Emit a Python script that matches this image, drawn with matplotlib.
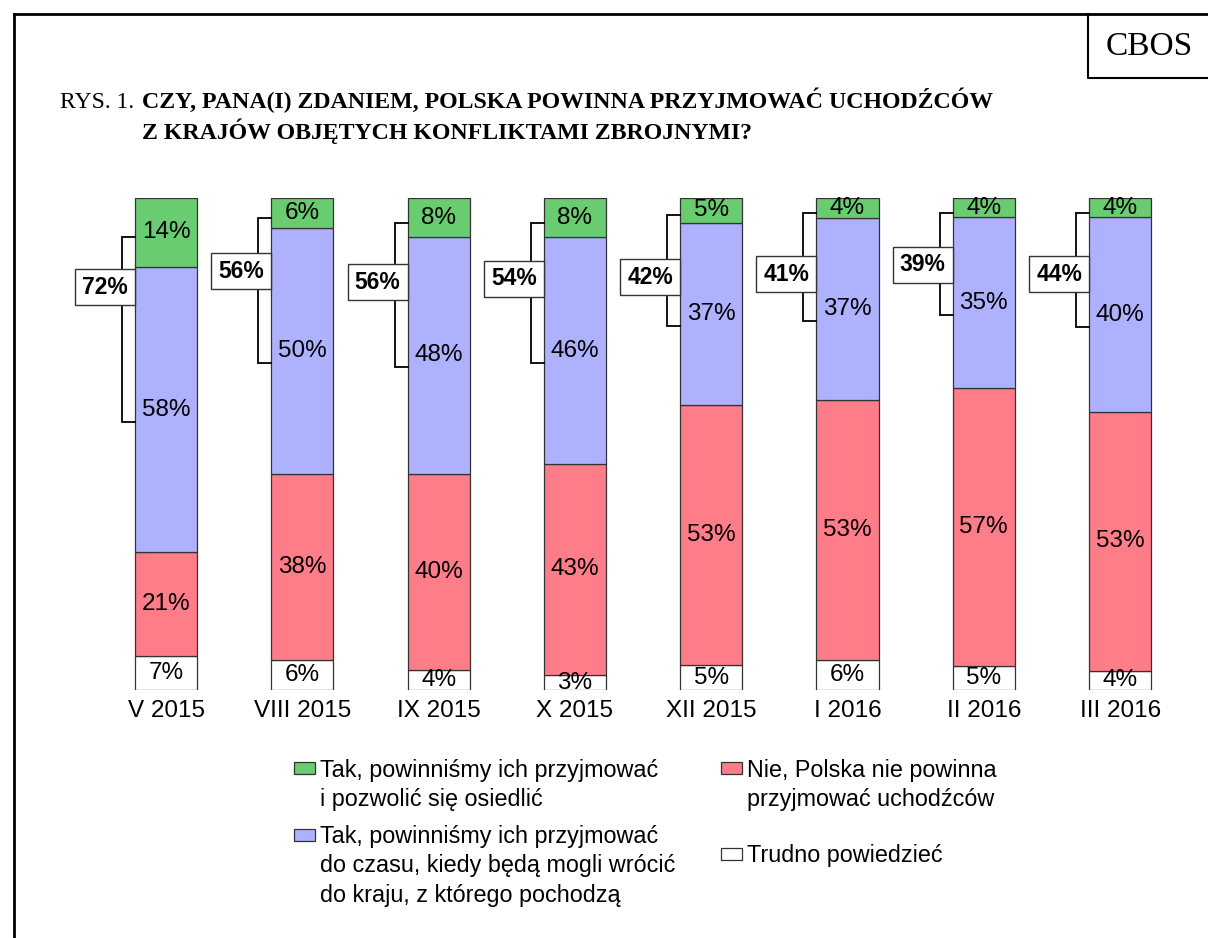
import matplotlib
matplotlib.use("Agg")
import matplotlib.pyplot as plt
from matplotlib.patches import Rectangle
import numpy as np

# dane (%)
waves = ['V 2015', 'VIII 2015', 'IX 2015', 'X 2015', 'XII 2015', 'I 2016', 'II 2016', 'III 2016']
settle = [14, 6, 8, 8, 5, 4, 4, 4]            # Tak, i pozwolić się osiedlić
temporary = [58, 50, 48, 46, 37, 37, 35, 40]  # Tak, do czasu powrotu
refuse = [21, 38, 40, 43, 53, 53, 57, 53]     # Nie
dont_know = [7, 6, 4, 3, 5, 6, 5, 4]          # Trudno powiedzieć
accept_total = [72, 56, 56, 54, 42, 41, 39, 44]

legend_labels = ['Tak, powinniśmy ich przyjmować\ni pozwolić się osiedlić',
                 'Tak, powinniśmy ich przyjmować\ndo czasu, kiedy będą mogli wrócić\ndo kraju, z którego pochodzą',
                 'Nie, Polska nie powinna\nprzyjmować uchodźców',
                 'Trudno powiedzieć']

# polozenie ramki z suma wzdluz klamry (0 = gora, 1 = dol)
box_frac = [0.27, 0.37, 0.41, 0.40, 0.56, 0.57, 0.51, 0.54]

GREEN = '#69cc70'
BLUE = '#adb1fe'
RED = '#ff7c89'
WHITE = '#ffffff'
EDGE = '#333333'
SANS = 'Liberation Sans'
SERIF = 'Liberation Serif'

W, H = 1208, 938
fig = plt.figure(figsize=(W / 100, H / 100), dpi=100)

# osie wykresu: slupek 0 w x=166 px, odstep 136.3 px, 100% = 198..690 px
step = 136.3
x0 = 166 - step
ax = fig.add_axes([x0 / W, 1 - 690 / H, (step * 8.6) / W, 492 / H])
ax.set_xlim(-1, 7.6)
ax.set_ylim(0, 100)
for s in ax.spines.values():
    s.set_visible(False)
ax.set_yticks([])

x = np.arange(len(waves))
bw = 0.455
data = np.array([dont_know, refuse, temporary, settle], dtype=float)
totals = data.sum(axis=0)
frac = data / totals * 100
colors = [WHITE, RED, BLUE, GREEN]

bottom = np.zeros(len(waves))
for k in range(4):
    ax.bar(x, frac[k], bw, bottom=bottom, color=colors[k], edgecolor=EDGE, linewidth=0.9, zorder=2)
    for i in range(len(waves)):
        ax.text(x[i], bottom[i] + frac[k][i] / 2, f'{int(data[k][i])}%', ha='center', va='center',
                fontsize=17.5, family=SANS, zorder=4)
    bottom += frac[k]

ax.set_xticks(x)
ax.set_xticklabels(waves, fontsize=17.5, family=SANS)
ax.tick_params(axis='x', length=0, pad=7)

# klamry z suma odpowiedzi "tak"
px_x = 1 / step
px_y = 100 / 492
for i in range(len(waves)):
    left = x[i] - bw / 2
    y_top = 100 - frac[3][i] / 2 - 5 * px_y
    y_bot = frac[0][i] + frac[1][i] + frac[2][i] / 2 - 12 * px_y
    xb = left - 13 * px_x
    ax.plot([left, xb, xb, left], [y_top, y_top, y_bot, y_bot], color='black', lw=1.3,
            solid_joinstyle='miter', zorder=3, clip_on=False)
    yc = y_top - box_frac[i] * (y_top - y_bot)
    bh = 36 * px_y
    bwid = 60 * px_x
    ax.add_patch(Rectangle((left - bwid, yc - bh / 2), bwid, bh, facecolor='white',
                           edgecolor=EDGE, lw=1.0, zorder=5, clip_on=False))
    ax.text(left - bwid / 2, yc, f'{accept_total[i]}%', ha='center', va='center',
            fontsize=16.5, fontweight='bold', family=SANS, zorder=6)

# nakladka w pikselach: ramka, tytul, legenda
ov = fig.add_axes([0, 0, 1, 1])
ov.set_xlim(0, W)
ov.set_ylim(H, 0)
ov.axis('off')
ov.patch.set_visible(False)

ov.plot([14, 14], [14, H + 5], color='black', lw=2)
ov.plot([14, W + 5], [14, 14], color='black', lw=2)
ov.plot([1088, 1088, W + 5], [14, 78, 78], color='black', lw=1.5)
ov.text(1149, 47, 'CBOS', ha='center', va='center', fontsize=24, family=SERIF)

ov.text(60, 108, 'RYS. 1. ', ha='left', va='baseline', fontsize=17, family=SERIF)
ov.text(142, 108, 'CZY, PANA(I) ZDANIEM, POLSKA POWINNA PRZYJMOWAĆ UCHODŹCÓW',
        ha='left', va='baseline', fontsize=17.2, family=SERIF, fontweight='bold')
ov.text(142, 139, 'Z KRAJÓW OBJĘTYCH KONFLIKTAMI ZBROJNYMI?',
        ha='left', va='baseline', fontsize=17.2, family=SERIF, fontweight='bold')

# legenda: (lewy brzeg kwadracika, srodek pierwszej linii)
legend_pos = [(294, 768.5), (294, 835), (721, 768.5), (721, 854)]
legend_colors = [GREEN, BLUE, RED, WHITE]
for (lx, ly), lab, c in zip(legend_pos, legend_labels, legend_colors):
    ov.add_patch(Rectangle((lx, ly - 6), 21, 12, facecolor=c, edgecolor=EDGE, lw=0.9))
    ov.text(lx + 26, ly - 10, lab, ha='left', va='top', fontsize=16.8, family=SANS, linespacing=1.36)

fig.savefig('out.png', dpi=100)
